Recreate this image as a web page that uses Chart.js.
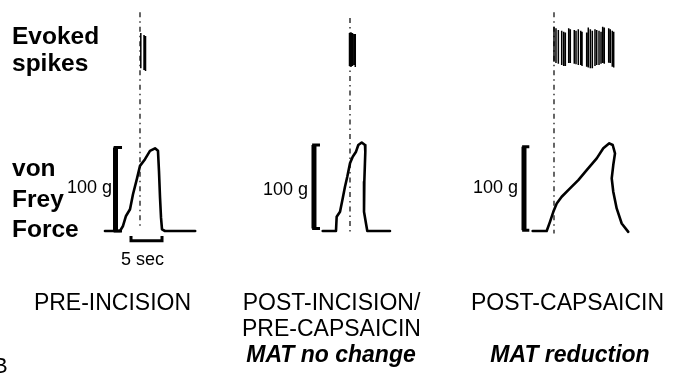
<!DOCTYPE html>
<html>
<head>
<meta charset="utf-8">
<script src="https://cdn.jsdelivr.net/npm/chart.js@4.4.1/dist/chart.umd.min.js"></script>
<style>
  html, body { margin: 0; padding: 0; background: #fff; }
  #wrap { position: relative; width: 693px; height: 375px; overflow: hidden;
          font-family: "Liberation Sans", Arial, Helvetica, sans-serif; color: #000; }
  #wrap canvas { position: absolute; left: 0; top: 0; }
  .lbl { position: absolute; white-space: nowrap; line-height: 1; }
</style>
</head>
<body>
<div id="wrap"><canvas id="fig" width="693" height="375"></canvas></div>
<script>
// ── Dados (t em s relativo ao marcador, força em g, spikes em amplitude normalizada) ──
const panelNames = ['PRE-INCISION', 'POST-INCISION/', 'POST-CAPSAICIN'];

// PRE-INCISION
const preSpikeT  = [0.13, 0.65, 0.89];
const preSpikePk = [0.92, 0.86, 0.83];
const preSpikeTr = [-0.06, -0.11, -0.14];
const preForceT  = [-5.65, -3.23, -2.74, -2.26, -1.61, -1.13, -0.48, 0, 0.81, 1.61, 2.42, 2.90, 3.06, 3.23, 3.39, 3.55, 4.03, 8.9];
const preForceG  = [0, 0, 6, 18, 26, 44, 63, 78, 86, 96, 99, 96, 72, 40, 16, 2, 0, 0];

// POST-INCISION / PRE-CAPSAICIN
const postSpikeT  = [-0.08, 0.16, 0.40, 0.65, 0.85];
const postSpikePk = [0.92, 0.94, 0.92, 0.89, 0.89];
const postSpikeTr = [0, -0.03, 0, 0.03, -0.03];
const postForceT  = [-4.40, -2.26, -2.15, -1.61, -1.18, -0.81, -0.44, 0, 0.44, 0.97, 1.34, 1.89, 2.42, 2.47, 2.31, 2.26, 2.58, 2.79, 6.45];
const postForceG  = [0, 0, 17, 23, 39, 53, 65, 81, 89, 95, 103, 106, 103, 95, 59, 23, 9, 0, 0];

// POST-CAPSAICIN
const capSpikeT  = [0, 0.32, 0.70, 1.24, 1.56, 1.83, 2.37, 2.63, 3.27, 3.55, 3.92, 4.31, 4.52, 5.27,
                    5.53, 5.86, 6.18, 6.61, 6.89, 7.26, 7.58, 7.85, 8.11, 8.82, 9.08, 9.40, 9.63];
const capSpikePk = [1.09, 1.05, 1.0, 0.98, 0.95, 0.93, 1.05, 1.02, 1.0, 0.98, 1.02, 0.98, 0.95, 0.93,
                    1.07, 1.02, 0.98, 1.02, 1.0, 0.98, 0.95, 1.09, 1.07, 1.05, 1.02, 0.98, 0.95];
const capSpikeTr = [0.12, 0.08, 0.06, 0.03, 0, 0, 0.08, 0.08, 0.06, 0.05, 0.03, 0.03, 0, -0.02,
                    -0.04, -0.06, -0.06, 0, 0.03, 0.03, 0.06, 0.08, 0.06, 0.09, 0.08, -0.02, -0.04];
const capForceT  = [-3.44, -1.18, -0.65, -0.11, 0.44, 1.24, 2.58, 3.92, 5.27, 6.89, 7.95, 8.92, 9.47, 9.84, 9.56, 9.31, 9.56, 10.11, 10.92, 11.98];
const capForceG  = [0, 0, 11, 23, 33, 41, 51, 61, 73, 87, 99, 105, 103, 93, 79, 63, 47, 27, 9, -1];

// marcador do estímulo (g, topo → base)
const markerG = [[262, 4], [255, -5], [262, -3]];

// barras de calibração
const calibG = 100;
const calibSec = 5;

// ── Layout ──
const W = 693, H = 375;
const pxPerSec = 6.2;
const markerPx = [140, 350, 554];
const gZeroPx = 231, pxPerG = 0.835;
const sZeroPx = 66, pxPerUnit = 36;

function xAxis(px) {
    const min = -px / pxPerSec;
    return { type: 'linear', display: false, bounds: 'data', min, max: min + W / pxPerSec };
}
function yAxis(zeroPx, pxPerUnitY) {
    const min = -(H - zeroPx) / pxPerUnitY;
    return { type: 'linear', display: false, bounds: 'data', min, max: min + H / pxPerUnitY };
}

function spikes(ts, pk, tr) {
    const out = [];
    ts.forEach((t, i) => out.push({ x: t, y: tr[i] }, { x: t, y: pk[i] }, { x: t, y: null }));
    return out;
}
function trace(ts, gs) {
    return ts.map((t, i) => ({ x: t, y: gs[i] }));
}

const panels = [
    { ax: 'x1', spk: spikes(preSpikeT, preSpikePk, preSpikeTr), force: trace(preForceT, preForceG),
      bracket: { t: -3.95, serif: -2.9, g0: 0 }, bar: { t0: -1.45, g: -11.6, tick: -6 } },
    { ax: 'x2', spk: spikes(postSpikeT, postSpikePk, postSpikeTr), force: trace(postForceT, postForceG),
      bracket: { t: -5.81, serif: -4.84, g0: 3 } },
    { ax: 'x3', spk: spikes(capSpikeT, capSpikePk, capSpikeTr), force: trace(capForceT, capForceG),
      bracket: { t: -4.84, serif: -3.98, g0: 1 } }
];

const base = { pointRadius: 0, borderColor: '#000', fill: false, tension: 0, spanGaps: false };
const datasets = [];
panels.forEach((p, i) => {
    const m = markerG[i];
    datasets.push({ ...base, xAxisID: p.ax, yAxisID: 'yF', borderWidth: 1.2, borderDash: [5, 4, 1.5, 4],
        data: [{ x: 0, y: m[0] }, { x: 0, y: m[1] }] });
    datasets.push({ ...base, xAxisID: p.ax, yAxisID: 'yS', borderWidth: 1.5, data: p.spk });
    datasets.push({ ...base, xAxisID: p.ax, yAxisID: 'yF', borderWidth: 2.6, borderJoinStyle: 'round',
        borderCapStyle: 'round', data: p.force });
    const b = p.bracket;
    datasets.push({ ...base, xAxisID: p.ax, yAxisID: 'yF', borderWidth: 5, borderCapStyle: 'butt',
        data: [{ x: b.t, y: b.g0 }, { x: b.t, y: b.g0 + calibG }] });
    datasets.push({ ...base, xAxisID: p.ax, yAxisID: 'yF', borderWidth: 3, borderCapStyle: 'butt',
        data: [{ x: b.t - 0.3, y: b.g0 + calibG }, { x: b.serif, y: b.g0 + calibG }, { x: b.serif, y: null },
               { x: b.t - 0.3, y: b.g0 }, { x: b.serif, y: b.g0 }] });
    if (p.bar) {
        const r = p.bar;
        datasets.push({ ...base, xAxisID: p.ax, yAxisID: 'yF', borderWidth: 3, borderCapStyle: 'butt',
            borderJoinStyle: 'miter',
            data: [{ x: r.t0, y: r.tick }, { x: r.t0, y: r.g }, { x: r.t0 + calibSec, y: r.g }, { x: r.t0 + calibSec, y: r.tick }] });
    }
});

new Chart(document.getElementById('fig'), {
    type: 'line',
    data: { datasets },
    options: {
        responsive: false,
        devicePixelRatio: 1,
        animation: false,
        events: [],
        layout: { padding: 0 },
        plugins: { legend: { display: false }, tooltip: { enabled: false } },
        scales: {
            x1: xAxis(markerPx[0]),
            x2: xAxis(markerPx[1]),
            x3: xAxis(markerPx[2]),
            yF: yAxis(gZeroPx, pxPerG),
            yS: yAxis(sZeroPx, pxPerUnit)
        }
    }
});

// ── Textos ──
const labels = [
    { t: 'Evoked', x: 12, b: 45, fs: 24.5, w: 'bold' },
    { t: 'spikes', x: 12, b: 72, fs: 24.5, w: 'bold' },
    { t: 'von', x: 12, b: 177, fs: 24.5, w: 'bold' },
    { t: 'Frey', x: 12, b: 208, fs: 24.5, w: 'bold' },
    { t: 'Force', x: 12, b: 238, fs: 24.5, w: 'bold' },
    { t: calibG + ' g', x: 67, b: 193, fs: 18 },
    { t: calibG + ' g', x: 263, b: 195, fs: 18 },
    { t: calibG + ' g', x: 473, b: 193, fs: 18 },
    { t: calibSec + ' sec', x: 142.5, b: 265, fs: 18, c: true },
    { t: panelNames[0], x: 112.5, b: 310, fs: 23, c: true },
    { t: panelNames[1], x: 331.5, b: 310, fs: 23, c: true },
    { t: 'PRE-CAPSAICIN', x: 331.5, b: 336, fs: 23, c: true },
    { t: 'MAT no change', x: 331, b: 362, fs: 23, c: true, w: 'bold', i: true },
    { t: panelNames[2], x: 567.5, b: 310, fs: 23, c: true },
    { t: 'MAT reduction', x: 570, b: 362, fs: 23, c: true, w: 'bold', i: true },
    { t: 'B', x: -7, b: 374, fs: 22 }
];
const wrap = document.getElementById('wrap');
labels.forEach(l => {
    const d = document.createElement('div');
    d.className = 'lbl';
    d.textContent = l.t;
    d.style.fontSize = l.fs + 'px';
    d.style.fontWeight = l.w || 'normal';
    d.style.fontStyle = l.i ? 'italic' : 'normal';
    d.style.left = l.x + 'px';
    d.style.top = (l.b - 0.8465 * l.fs) + 'px';
    if (l.c) d.style.transform = 'translateX(-50%)';
    wrap.appendChild(d);
});
</script>
</body>
</html>
